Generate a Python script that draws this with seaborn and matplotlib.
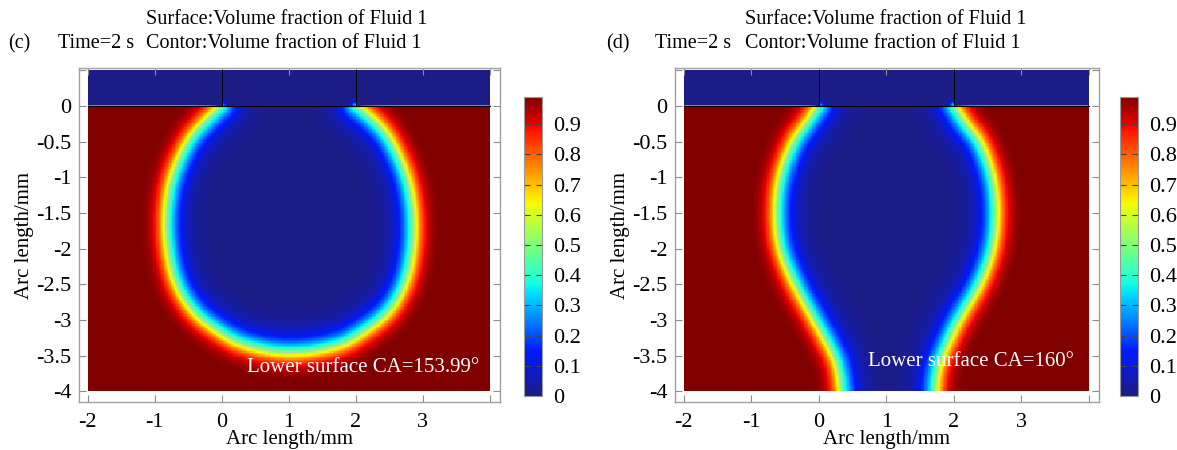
import numpy as np
import pandas as pd
import matplotlib
matplotlib.use('Agg')
import matplotlib.pyplot as plt
from matplotlib.path import Path
from matplotlib.colors import ListedColormap
import seaborn as sns

# interface of the bubble (0.5 contour), in mm
c_y = [0.0, -0.25, -0.5, -1.0, -1.5, -2.0, -2.5, -2.9, -3.18, -3.37]
c_left = [0.0, -0.28, -0.51, -0.75, -0.83, -0.81, -0.69, -0.42, -0.02, 0.35]
c_right = [2.0, 2.32, 2.53, 2.77, 2.86, 2.85, 2.74, 2.49, 2.09, 1.75]
c_bottom = [1.02, -3.48]

d_y = [0.0, -0.25, -0.5, -1.0, -1.5, -2.0, -2.5, -3.0, -3.5, -3.75, -4.0]
d_left = [0.0, -0.18, -0.38, -0.58, -0.63, -0.58, -0.36, -0.06, 0.24, 0.31, 0.34]
d_right = [2.0, 2.16, 2.39, 2.58, 2.63, 2.58, 2.39, 2.06, 1.82, 1.74, 1.72]

ca_text = ['Lower surface CA=153.99\u00b0', 'Lower surface CA=160\u00b0']
panel_tags = ['(c)', '(d)']

# domain: lower chamber x -2..4, y -4..0, channel layer y 0..0.5 split at x=0 and x=2
x_edges = [-2.0, 4.0]
y_edges = [-4.0, 0.5]
walls_x = [0.0, 2.0]

xticks = [-2, -1, 0, 1, 2, 3, 4]
xticklabels = ['-2', '-1', '0', '1', '2', '3', '']
yticks = [0.5, 0, -0.5, -1, -1.5, -2, -2.5, -3, -3.5, -4]
yticklabels = ['', '0', '-0.5', '-1', '-1.5', '-2', '-2.5', '-3', '-3.5', '-4']
cbar_ticks = [0, 0.1, 0.2, 0.3, 0.4, 0.5, 0.6, 0.7, 0.8, 0.9]

plt.rcParams['font.family'] = ['Liberation Serif', 'DejaVu Serif']

# jet-like rainbow with a softer navy end, as in the COMSOL export
jet = plt.get_cmap('jet')
s = np.linspace(0, 1, 256)
rgba = jet(s)
low = s < 0.15
t = (s[low] / 0.15)[:, None]
rgba[low, :3] = (1 - t) * np.array([0.11, 0.11, 0.53]) + t * np.array(jet(0.15)[:3])
cmap = ListedColormap(rgba)

dx = 0.02
ncol = int(round((x_edges[1] - x_edges[0]) / dx))
nrow = int(round((y_edges[1] - y_edges[0]) / dx))
xc = x_edges[0] + (np.arange(ncol) + 0.5) * dx
yc = y_edges[1] - (np.arange(nrow) + 0.5) * dx
XX, YY = np.meshgrid(xc, yc)


def fx(x):
    return (np.asarray(x, dtype=float) - x_edges[0]) / dx


def fy(y):
    return (y_edges[1] - np.asarray(y, dtype=float)) / dx


def chaikin(pts, n=2):
    pts = np.asarray(pts, dtype=float)
    for _ in range(n):
        q = 0.75 * pts[:-1] + 0.25 * pts[1:]
        r = 0.25 * pts[:-1] + 0.75 * pts[1:]
        mid = np.empty((2 * len(q), 2))
        mid[0::2] = q
        mid[1::2] = r
        pts = np.vstack([pts[:1], mid, pts[-1:]])
    return pts


def seg_dist(P, line):
    A = line[:-1]
    B = line[1:]
    AB = B - A
    L2 = (AB ** 2).sum(1)
    AP = P[:, None, :] - A[None, :, :]
    t = np.clip((AP * AB[None]).sum(2) / L2[None], 0, 1)
    proj = A[None] + t[..., None] * AB[None]
    return np.sqrt(((P[:, None, :] - proj) ** 2).sum(2)).min(1)


def make_field(lines, polygon):
    P = np.column_stack([XX.ravel(), YY.ravel()])
    d = np.min([seg_dist(P, ln) for ln in lines], axis=0)
    inside = Path(polygon).contains_points(P)
    d = np.where(inside, -d, d)
    w = np.where(d > 0, 0.18, 0.24)
    v = 0.5 * (1 + np.tanh(d / w))
    v = v.reshape(XX.shape)
    # channel layer is filled with fluid 2, small glow at the pinning corners
    glow = np.zeros_like(XX)
    for wx in walls_x:
        glow += 0.3 * np.exp(-((XX - wx) ** 2 + YY ** 2) / (2 * 0.05 ** 2))
    glow[(XX < walls_x[0]) | (XX > walls_x[1])] = 0
    v[YY > 0] = glow[YY > 0]
    return v


# panel c: closed bubble
c_pts = [[x, y] for x, y in zip(c_left, c_y)] + [c_bottom] + \
        [[x, y] for x, y in zip(c_right[::-1], c_y[::-1])]
c_line = chaikin(c_pts)
field_c = make_field([c_line], c_line)

# panel d: neck touching the lower wall
d_l = chaikin([[x, y] for x, y in zip(d_left, d_y)])
d_r = chaikin([[x, y] for x, y in zip(d_right, d_y)])
d_poly = np.vstack([d_l, d_r[::-1]])
field_d = make_field([d_l, d_r], d_poly)

fig = plt.figure(figsize=(11.77, 4.5), dpi=100)
axes = [fig.add_axes([0.0671, 0.1067, 0.3577, 0.742]),
        fig.add_axes([0.5735, 0.1067, 0.3602, 0.742])]
caxes = [fig.add_axes([0.4452, 0.12, 0.0153, 0.6644]),
         fig.add_axes([0.9516, 0.12, 0.0153, 0.6644])]
title_x = [(8, 58, 146), (606, 655, 745)]
ca_pos = [(0.37, -3.66), (0.73, -3.58)]

for k, (ax, cax, field) in enumerate(zip(axes, caxes, [field_c, field_d])):
    df = pd.DataFrame(field, index=np.round(yc, 3), columns=np.round(xc, 3))
    sns.heatmap(df, ax=ax, cmap=cmap, vmin=0, vmax=0.99, cbar_ax=cax,
                xticklabels=False, yticklabels=False, rasterized=True)
    ax.contour(np.arange(ncol) + 0.5, np.arange(nrow) + 0.5, field,
               levels=[0.5], colors='#c8c8c8', linewidths=0.8)
    # domain boundaries
    ax.plot(fx(x_edges), fy([0, 0]), color='black', lw=0.8)
    for wx in walls_x:
        ax.plot(fx([wx, wx]), fy([0, y_edges[1]]), color='black', lw=0.8)

    ax.set_xlim(fx(-2.13), fx(4.15))
    ax.set_ylim(fy(-4.15), fy(0.53))
    ax.set_xticks(fx(xticks))
    ax.set_xticklabels(xticklabels)
    ax.set_yticks(fy(yticks))
    ax.set_yticklabels(yticklabels, rotation=0)
    ax.tick_params(direction='in', top=True, right=True, length=5, width=0.8,
                   color='#8c8c8c', labelsize=16, pad=5.5)
    ax.tick_params(axis='x', pad=8)
    for sp in ax.spines.values():
        sp.set_visible(True)
        sp.set_color('#a0a0a0')
        sp.set_linewidth(1.0)
    ax.set_xlabel('Arc length/mm', fontsize=15, labelpad=-1.5)
    ax.set_ylabel('Arc length/mm', fontsize=15, labelpad=1.5)

    tx, ty = ca_pos[k]
    ax.text(fx(tx), fy(ty), ca_text[k], color='white', fontsize=15,
            va='center', ha='left')

    cb = ax.collections[0].colorbar
    cb.set_ticks(cbar_ticks)
    cb.set_ticklabels([f'{t:g}' for t in cbar_ticks])
    cb.outline.set_visible(True)
    cb.outline.set_linewidth(0.8)
    cb.outline.set_edgecolor('#9a9a9a')
    cax.tick_params(direction='in', length=4, width=0.8, color='#444444',
                    labelsize=16, left=True, right=True, pad=8)

    x0, x1, x2 = title_x[k]
    fig.text(x0 / 1177, 1 - 44 / 450, panel_tags[k], fontsize=14.5, va='center')
    fig.text(x1 / 1177, 1 - 43 / 450, 'Time=2 s', fontsize=14.5, va='center')
    fig.text(x2 / 1177, 1 - 20 / 450, 'Surface:Volume fraction of Fluid 1',
             fontsize=14.5, va='center')
    fig.text(x2 / 1177, 1 - 43 / 450, 'Contor:Volume fraction of Fluid 1',
             fontsize=14.5, va='center')

plt.savefig('out.png', dpi=100)
plt.close()
